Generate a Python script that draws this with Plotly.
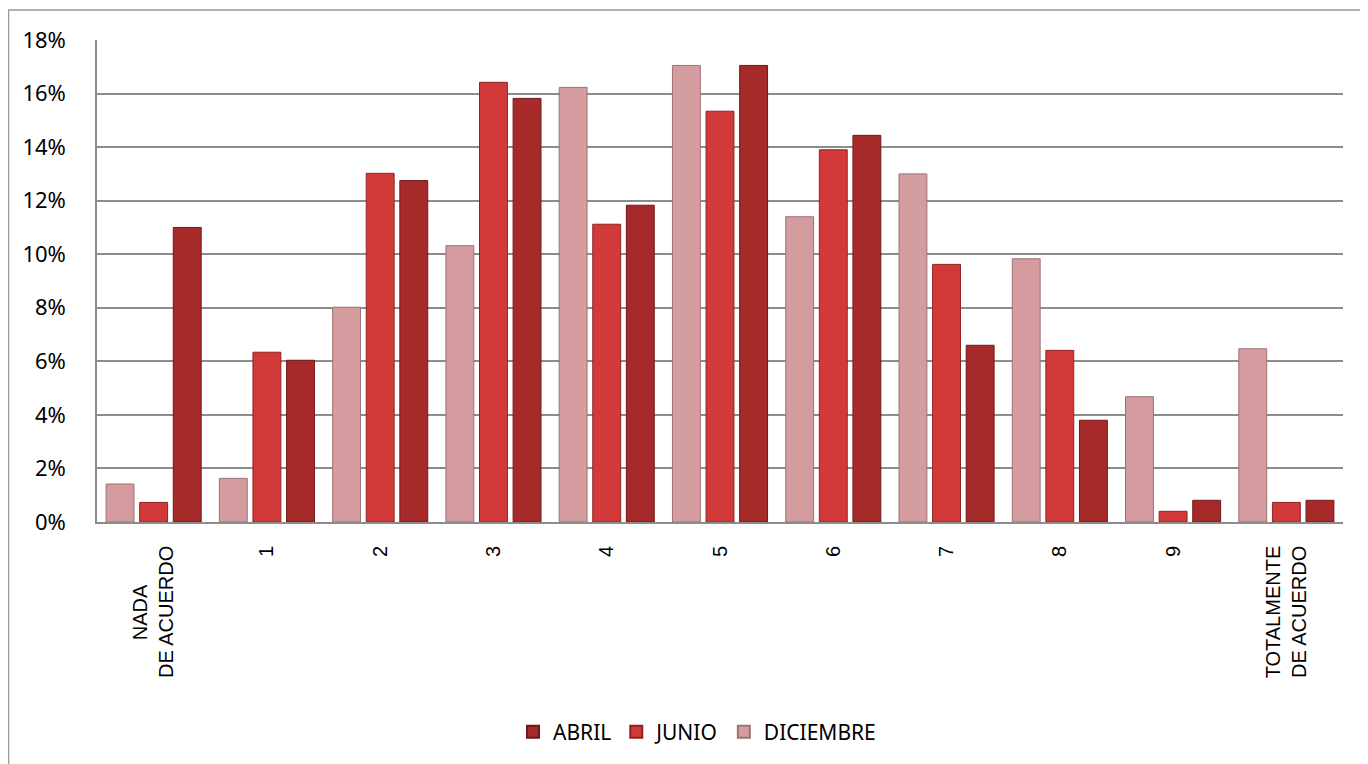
import plotly.graph_objects as go

categories = ["NADA" + "\u00a0" * 7 + "<br>DE ACUERDO", "1", "2", "3", "4", "5", "6", "7",
              "8", "9", "TOTALMENTE<br>DE ACUERDO"]
diciembre = [1.42, 1.63, 8.02, 10.32, 16.23, 17.05, 11.40, 13.00, 9.83, 4.68, 6.47]
junio = [0.73, 6.34, 13.02, 16.42, 11.12, 15.34, 13.90, 9.62, 6.41, 0.40, 0.73]
abril = [11.00, 6.04, 12.75, 15.82, 11.83, 17.05, 14.44, 6.60, 3.80, 0.81, 0.81]
y_ticks = [0, 2, 4, 6, 8, 10, 12, 14, 16, 18]
y_tick_labels = [f"{v}%" for v in y_ticks]

# the page body has an 8px margin; figure placed at (8, 8) on screen
OFF = 8
W, H = 1360, 756
L, R, T, B = 97 - OFF, 25, 40 - OFF, 242
pw, ph = W - L - R, H - T - B

def px_x(p):  # screen pixel -> paper
    return (p - OFF - L) / pw

def px_y(p):
    return (OFF + H - B - p) / ph

fig = go.Figure()
series = [
    ("DICIEMBRE", diciembre, "#D49C9E", "#9E7274"),
    ("JUNIO", junio, "#D23A3A", "#8E2222"),
    ("ABRIL", abril, "#A72A2B", "#6E1A1B"),
]
for name, vals, col, edge in series:
    fig.add_trace(go.Bar(
        x=categories, y=vals, name=name,
        marker=dict(color=col, line=dict(color=edge, width=1)),
    ))

fig.update_layout(
    width=W, height=H,
    margin=dict(l=L, r=R, t=T, b=B),
    paper_bgcolor="white", plot_bgcolor="white",
    barmode="group", bargap=0.11, bargroupgap=0.17,
    showlegend=True,
    legend=dict(orientation="h", traceorder="reversed",
                x=px_x(697), xanchor="center", y=px_y(732), yanchor="middle",
                font=dict(family="Noto Sans", size=21, color="black"),
                itemwidth=30, itemsizing="constant"),
    font=dict(family="Noto Sans", color="black"),
    shapes=[
        dict(type="line", xref="paper", yref="paper",
             x0=px_x(8), x1=px_x(1368), y0=px_y(10), y1=px_y(10),
             line=dict(color="#999999", width=1.5)),
        dict(type="line", xref="paper", yref="paper",
             x0=px_x(8.5), x1=px_x(8.5), y0=px_y(10), y1=px_y(764),
             line=dict(color="#999999", width=1.5)),
    ],
)
fig.update_yaxes(
    range=[0, 18], tickvals=y_ticks, ticktext=y_tick_labels,
    showgrid=True, gridcolor="#8C8C8C", gridwidth=1.5,
    showline=True, linecolor="#8C8C8C", linewidth=1.5,
    zeroline=False, ticks="", ticklabelstandoff=25,
    tickfont=dict(family="Noto Sans", size=22, color="black"),
)
fig.update_xaxes(
    tickangle=-90, showline=True, linecolor="#8C8C8C", linewidth=1.5,
    ticks="", ticklabelstandoff=14,
    tickfont=dict(family="Liberation Sans", size=20, color="black"),
)

fig.write_html("out.html")
